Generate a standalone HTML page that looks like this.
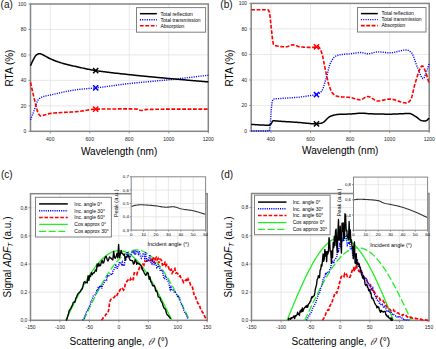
<!DOCTYPE html>
<html><head><meta charset="utf-8"><style>html,body{margin:0;padding:0;background:#fff;width:436px;height:349px;overflow:hidden}svg{display:block}</style></head><body>
<svg width="436" height="349" viewBox="0 0 436 349" font-family="'Liberation Sans', sans-serif">
<rect width="436" height="349" fill="#fff"/>
<line x1="50.26" y1="4" x2="50.26" y2="131.3" stroke="#e2e2e2" stroke-width="0.8"/>
<line x1="89.77" y1="4" x2="89.77" y2="131.3" stroke="#e2e2e2" stroke-width="0.8"/>
<line x1="129.28" y1="4" x2="129.28" y2="131.3" stroke="#e2e2e2" stroke-width="0.8"/>
<line x1="168.79" y1="4" x2="168.79" y2="131.3" stroke="#e2e2e2" stroke-width="0.8"/>
<line x1="30.5" y1="105.84" x2="208.3" y2="105.84" stroke="#e2e2e2" stroke-width="0.8"/>
<line x1="30.5" y1="80.38" x2="208.3" y2="80.38" stroke="#e2e2e2" stroke-width="0.8"/>
<line x1="30.5" y1="54.92" x2="208.3" y2="54.92" stroke="#e2e2e2" stroke-width="0.8"/>
<line x1="30.5" y1="29.46" x2="208.3" y2="29.46" stroke="#e2e2e2" stroke-width="0.8"/>
<rect x="30.5" y="4" width="177.8" height="127.3" fill="none" stroke="#858585" stroke-width="1.5"/>
<line x1="50.26" y1="131.3" x2="50.26" y2="133.3" stroke="#858585" stroke-width="0.9"/>
<line x1="89.77" y1="131.3" x2="89.77" y2="133.3" stroke="#858585" stroke-width="0.9"/>
<line x1="129.28" y1="131.3" x2="129.28" y2="133.3" stroke="#858585" stroke-width="0.9"/>
<line x1="168.79" y1="131.3" x2="168.79" y2="133.3" stroke="#858585" stroke-width="0.9"/>
<line x1="208.3" y1="131.3" x2="208.3" y2="133.3" stroke="#858585" stroke-width="0.9"/>
<line x1="28.5" y1="131.3" x2="30.5" y2="131.3" stroke="#858585" stroke-width="0.9"/>
<line x1="28.5" y1="105.84" x2="30.5" y2="105.84" stroke="#858585" stroke-width="0.9"/>
<line x1="28.5" y1="80.38" x2="30.5" y2="80.38" stroke="#858585" stroke-width="0.9"/>
<line x1="28.5" y1="54.92" x2="30.5" y2="54.92" stroke="#858585" stroke-width="0.9"/>
<line x1="28.5" y1="29.46" x2="30.5" y2="29.46" stroke="#858585" stroke-width="0.9"/>
<line x1="28.5" y1="4" x2="30.5" y2="4" stroke="#858585" stroke-width="0.9"/>
<text x="50.26" y="140.7" font-size="5" text-anchor="middle" fill="#222" >400</text>
<text x="89.77" y="140.7" font-size="5" text-anchor="middle" fill="#222" >600</text>
<text x="129.28" y="140.7" font-size="5" text-anchor="middle" fill="#222" >800</text>
<text x="168.79" y="140.7" font-size="5" text-anchor="middle" fill="#222" >1000</text>
<text x="208.3" y="140.7" font-size="5" text-anchor="middle" fill="#222" >1200</text>
<text x="26.3" y="133.1" font-size="5" text-anchor="end" fill="#222" >0</text>
<text x="26.3" y="107.64" font-size="5" text-anchor="end" fill="#222" >20</text>
<text x="26.3" y="82.18" font-size="5" text-anchor="end" fill="#222" >40</text>
<text x="26.3" y="56.72" font-size="5" text-anchor="end" fill="#222" >60</text>
<text x="26.3" y="31.26" font-size="5" text-anchor="end" fill="#222" >80</text>
<text x="26.3" y="5.8" font-size="5" text-anchor="end" fill="#222" >100</text>
<path d="M30.5 119.84 L31.49 117.3 L32.48 114.75 L33.46 112.21 L34.45 109.66 L35.44 106.83 L36.43 103.8 L37.41 101.16 L38.4 99.48 L39.39 98.57 L40.38 97.88 L41.37 97.34 L42.35 96.93 L43.34 96.59 L44.33 96.3 L45.32 96.05 L46.3 95.83 L47.29 95.62 L48.28 95.43 L49.27 95.23 L50.26 95.02 L51.24 94.8 L52.23 94.58 L53.22 94.36 L54.21 94.13 L55.19 93.91 L56.18 93.69 L57.17 93.46 L58.16 93.24 L59.15 93.02 L60.13 92.8 L61.12 92.58 L62.11 92.37 L63.1 92.15 L64.08 91.94 L65.07 91.74 L66.06 91.53 L67.05 91.34 L68.04 91.14 L69.02 90.95 L70.01 90.77 L71 90.59 L71.99 90.42 L72.97 90.26 L73.96 90.1 L74.95 89.95 L75.94 89.81 L76.93 89.67 L77.91 89.55 L78.9 89.43 L79.89 89.32 L80.88 89.21 L81.86 89.11 L82.85 89.02 L83.84 88.93 L84.83 88.85 L85.82 88.76 L86.8 88.68 L87.79 88.6 L88.78 88.52 L89.77 88.44 L90.75 88.35 L91.74 88.27 L92.73 88.18 L93.72 88.09 L94.71 87.99 L95.69 87.89 L96.68 87.78 L97.67 87.67 L98.66 87.56 L99.64 87.44 L100.63 87.32 L101.62 87.2 L102.61 87.08 L103.6 86.95 L104.58 86.82 L105.57 86.69 L106.56 86.56 L107.55 86.43 L108.53 86.29 L109.52 86.16 L110.51 86.02 L111.5 85.88 L112.49 85.75 L113.47 85.61 L114.46 85.47 L115.45 85.33 L116.44 85.2 L117.42 85.06 L118.41 84.93 L119.4 84.79 L120.39 84.66 L121.38 84.53 L122.36 84.4 L123.35 84.27 L124.34 84.15 L125.33 84.03 L126.31 83.91 L127.3 83.79 L128.29 83.67 L129.28 83.56 L130.27 83.45 L131.25 83.35 L132.24 83.24 L133.23 83.14 L134.22 83.04 L135.2 82.93 L136.19 82.83 L137.18 82.74 L138.17 82.64 L139.16 82.54 L140.14 82.45 L141.13 82.35 L142.12 82.26 L143.11 82.17 L144.09 82.07 L145.08 81.98 L146.07 81.89 L147.06 81.8 L148.05 81.71 L149.03 81.62 L150.02 81.53 L151.01 81.44 L152 81.35 L152.98 81.26 L153.97 81.17 L154.96 81.08 L155.95 80.99 L156.94 80.9 L157.92 80.81 L158.91 80.71 L159.9 80.62 L160.89 80.53 L161.87 80.43 L162.86 80.34 L163.85 80.24 L164.84 80.14 L165.83 80.05 L166.81 79.95 L167.8 79.85 L168.79 79.74 L169.78 79.64 L170.76 79.54 L171.75 79.43 L172.74 79.33 L173.73 79.22 L174.72 79.11 L175.7 79 L176.69 78.9 L177.68 78.79 L178.67 78.68 L179.65 78.57 L180.64 78.46 L181.63 78.35 L182.62 78.23 L183.61 78.12 L184.59 78.01 L185.58 77.9 L186.57 77.79 L187.56 77.67 L188.54 77.56 L189.53 77.44 L190.52 77.33 L191.51 77.22 L192.5 77.1 L193.48 76.99 L194.47 76.87 L195.46 76.76 L196.45 76.65 L197.43 76.53 L198.42 76.42 L199.41 76.3 L200.4 76.19 L201.39 76.08 L202.37 75.96 L203.36 75.85 L204.35 75.74 L205.34 75.62 L206.32 75.51 L207.31 75.4 L208.3 75.29" fill="none" stroke="#0000ff" stroke-width="1.4" stroke-dasharray="1.1 1.2"/>
<path d="M30.5 82.29 L31.49 86.67 L32.48 91.1 L33.46 95.43 L34.45 99.48 L35.44 103.54 L36.43 107.63 L37.41 111.14 L38.4 113.48 L39.39 114.97 L40.38 115.92 L41.37 115.97 L42.35 115.71 L43.34 115.34 L44.33 115.01 L45.32 114.72 L46.3 114.42 L47.29 114.13 L48.28 113.86 L49.27 113.64 L50.26 113.48 L51.24 113.36 L52.23 113.25 L53.22 113.15 L54.21 113.06 L55.19 112.97 L56.18 112.89 L57.17 112.82 L58.16 112.75 L59.15 112.69 L60.13 112.63 L61.12 112.57 L62.11 112.52 L63.1 112.47 L64.08 112.42 L65.07 112.37 L66.06 112.32 L67.05 112.27 L68.04 112.23 L69.02 112.18 L70.01 112.12 L71 112.07 L71.99 112.01 L72.97 111.95 L73.96 111.89 L74.95 111.82 L75.94 111.74 L76.93 111.66 L77.91 111.57 L78.9 111.47 L79.89 111.34 L80.88 111.2 L81.86 111.05 L82.85 110.89 L83.84 110.72 L84.83 110.54 L85.82 110.36 L86.8 110.19 L87.79 110.01 L88.78 109.85 L89.77 109.69 L90.75 109.55 L91.74 109.43 L92.73 109.32 L93.72 109.24 L94.71 109.18 L95.69 109.15 L96.68 109.13 L97.67 109.12 L98.66 109.11 L99.64 109.09 L100.63 109.08 L101.62 109.07 L102.61 109.05 L103.6 109.04 L104.58 109.03 L105.57 109.02 L106.56 109.01 L107.55 109 L108.53 108.99 L109.52 108.98 L110.51 108.97 L111.5 108.96 L112.49 108.96 L113.47 108.95 L114.46 108.94 L115.45 108.94 L116.44 108.93 L117.42 108.93 L118.41 108.92 L119.4 108.92 L120.39 108.91 L121.38 108.91 L122.36 108.91 L123.35 108.9 L124.34 108.9 L125.33 108.9 L126.31 108.9 L127.3 108.9 L128.29 108.9 L129.28 108.9 L130.27 108.9 L131.25 108.91 L132.24 108.93 L133.23 108.96 L134.22 108.99 L135.2 109.04 L136.19 109.09 L137.18 109.15 L138.17 109.4 L139.16 109.88 L140.14 110.34 L141.13 110.55 L142.12 110.42 L143.11 110.13 L144.09 109.83 L145.08 109.66 L146.07 109.61 L147.06 109.57 L148.05 109.53 L149.03 109.49 L150.02 109.45 L151.01 109.42 L152 109.38 L152.98 109.36 L153.97 109.33 L154.96 109.3 L155.95 109.28 L156.94 109.26 L157.92 109.24 L158.91 109.22 L159.9 109.21 L160.89 109.2 L161.87 109.18 L162.86 109.18 L163.85 109.17 L164.84 109.16 L165.83 109.16 L166.81 109.15 L167.8 109.15 L168.79 109.15 L169.78 109.15 L170.76 109.15 L171.75 109.15 L172.74 109.15 L173.73 109.15 L174.72 109.15 L175.7 109.15 L176.69 109.15 L177.68 109.15 L178.67 109.15 L179.65 109.15 L180.64 109.15 L181.63 109.15 L182.62 109.15 L183.61 109.15 L184.59 109.15 L185.58 109.15 L186.57 109.15 L187.56 109.15 L188.54 109.15 L189.53 109.15 L190.52 109.15 L191.51 109.15 L192.5 109.15 L193.48 109.15 L194.47 109.15 L195.46 109.15 L196.45 109.15 L197.43 109.15 L198.42 109.15 L199.41 109.15 L200.4 109.15 L201.39 109.15 L202.37 109.15 L203.36 109.15 L204.35 109.15 L205.34 109.15 L206.32 109.15 L207.31 109.15 L208.3 109.15" fill="none" stroke="#ff0000" stroke-width="1.6" stroke-dasharray="3.8 1.6"/>
<path d="M30.5 65.74 L31.49 63.54 L32.48 61.33 L33.46 59.38 L34.45 57.59 L35.44 55.98 L36.43 54.92 L37.41 54.3 L38.4 53.83 L39.39 53.65 L40.38 53.79 L41.37 54.14 L42.35 54.54 L43.34 54.99 L44.33 55.55 L45.32 56.14 L46.3 56.7 L47.29 57.23 L48.28 57.76 L49.27 58.27 L50.26 58.74 L51.24 59.18 L52.23 59.61 L53.22 60.03 L54.21 60.43 L55.19 60.82 L56.18 61.2 L57.17 61.56 L58.16 61.91 L59.15 62.24 L60.13 62.56 L61.12 62.86 L62.11 63.15 L63.1 63.44 L64.08 63.71 L65.07 63.98 L66.06 64.24 L67.05 64.49 L68.04 64.74 L69.02 64.98 L70.01 65.22 L71 65.45 L71.99 65.68 L72.97 65.91 L73.96 66.13 L74.95 66.35 L75.94 66.57 L76.93 66.79 L77.91 67.01 L78.9 67.23 L79.89 67.45 L80.88 67.67 L81.86 67.89 L82.85 68.11 L83.84 68.32 L84.83 68.53 L85.82 68.74 L86.8 68.95 L87.79 69.15 L88.78 69.35 L89.77 69.54 L90.75 69.73 L91.74 69.91 L92.73 70.09 L93.72 70.26 L94.71 70.42 L95.69 70.58 L96.68 70.73 L97.67 70.88 L98.66 71.02 L99.64 71.17 L100.63 71.31 L101.62 71.44 L102.61 71.58 L103.6 71.71 L104.58 71.84 L105.57 71.97 L106.56 72.1 L107.55 72.22 L108.53 72.34 L109.52 72.46 L110.51 72.58 L111.5 72.7 L112.49 72.81 L113.47 72.93 L114.46 73.04 L115.45 73.15 L116.44 73.26 L117.42 73.37 L118.41 73.48 L119.4 73.59 L120.39 73.7 L121.38 73.8 L122.36 73.91 L123.35 74.02 L124.34 74.12 L125.33 74.23 L126.31 74.33 L127.3 74.44 L128.29 74.55 L129.28 74.65 L130.27 74.76 L131.25 74.86 L132.24 74.97 L133.23 75.07 L134.22 75.17 L135.2 75.28 L136.19 75.38 L137.18 75.48 L138.17 75.58 L139.16 75.68 L140.14 75.78 L141.13 75.88 L142.12 75.97 L143.11 76.07 L144.09 76.17 L145.08 76.26 L146.07 76.36 L147.06 76.45 L148.05 76.55 L149.03 76.64 L150.02 76.74 L151.01 76.83 L152 76.92 L152.98 77.01 L153.97 77.11 L154.96 77.2 L155.95 77.29 L156.94 77.38 L157.92 77.47 L158.91 77.56 L159.9 77.66 L160.89 77.75 L161.87 77.84 L162.86 77.93 L163.85 78.02 L164.84 78.11 L165.83 78.2 L166.81 78.29 L167.8 78.38 L168.79 78.47 L169.78 78.56 L170.76 78.65 L171.75 78.74 L172.74 78.83 L173.73 78.92 L174.72 79.01 L175.7 79.09 L176.69 79.18 L177.68 79.27 L178.67 79.36 L179.65 79.44 L180.64 79.53 L181.63 79.61 L182.62 79.7 L183.61 79.79 L184.59 79.87 L185.58 79.96 L186.57 80.04 L187.56 80.13 L188.54 80.21 L189.53 80.3 L190.52 80.38 L191.51 80.47 L192.5 80.55 L193.48 80.63 L194.47 80.72 L195.46 80.8 L196.45 80.89 L197.43 80.97 L198.42 81.06 L199.41 81.14 L200.4 81.23 L201.39 81.31 L202.37 81.4 L203.36 81.48 L204.35 81.57 L205.34 81.65 L206.32 81.74 L207.31 81.82 L208.3 81.91" fill="none" stroke="#000" stroke-width="1.5"/>
<path d="M93.09 67.98 L98.29 73.18 M93.09 73.18 L98.29 67.98" stroke="#000" stroke-width="1.5" fill="none"/>
<path d="M93.09 85.29 L98.29 90.49 M93.09 90.49 L98.29 85.29" stroke="#0000ff" stroke-width="1.5" fill="none"/>
<path d="M93.09 106.55 L98.29 111.75 M93.09 111.75 L98.29 106.55" stroke="#ff0000" stroke-width="1.5" fill="none"/>
<rect x="136.5" y="7.6" width="69.1" height="24.6" fill="#fff" stroke="#808080" stroke-width="1"/>
<line x1="139.9" y1="13.7" x2="156.8" y2="13.7" stroke="#000" stroke-width="1.5"/>
<text x="160.5" y="15.5" font-size="5" text-anchor="start" fill="#000" >Total reflection</text>
<line x1="139.9" y1="19.7" x2="156.8" y2="19.7" stroke="#0000ff" stroke-width="1.4" stroke-dasharray="1.1 1.2"/>
<text x="160.5" y="21.5" font-size="5" text-anchor="start" fill="#000" >Total transmission</text>
<line x1="139.9" y1="25.7" x2="156.8" y2="25.7" stroke="#ff0000" stroke-width="1.6" stroke-dasharray="3.8 1.6"/>
<text x="160.5" y="27.5" font-size="5" text-anchor="start" fill="#000" >Absorption</text>
<line x1="270.98" y1="3.4" x2="270.98" y2="131" stroke="#e2e2e2" stroke-width="0.8"/>
<line x1="310.53" y1="3.4" x2="310.53" y2="131" stroke="#e2e2e2" stroke-width="0.8"/>
<line x1="350.09" y1="3.4" x2="350.09" y2="131" stroke="#e2e2e2" stroke-width="0.8"/>
<line x1="389.64" y1="3.4" x2="389.64" y2="131" stroke="#e2e2e2" stroke-width="0.8"/>
<line x1="251.2" y1="105.48" x2="429.2" y2="105.48" stroke="#e2e2e2" stroke-width="0.8"/>
<line x1="251.2" y1="79.96" x2="429.2" y2="79.96" stroke="#e2e2e2" stroke-width="0.8"/>
<line x1="251.2" y1="54.44" x2="429.2" y2="54.44" stroke="#e2e2e2" stroke-width="0.8"/>
<line x1="251.2" y1="28.92" x2="429.2" y2="28.92" stroke="#e2e2e2" stroke-width="0.8"/>
<rect x="251.2" y="3.4" width="178" height="127.6" fill="none" stroke="#858585" stroke-width="1.5"/>
<line x1="270.98" y1="131" x2="270.98" y2="133" stroke="#858585" stroke-width="0.9"/>
<line x1="310.53" y1="131" x2="310.53" y2="133" stroke="#858585" stroke-width="0.9"/>
<line x1="350.09" y1="131" x2="350.09" y2="133" stroke="#858585" stroke-width="0.9"/>
<line x1="389.64" y1="131" x2="389.64" y2="133" stroke="#858585" stroke-width="0.9"/>
<line x1="429.2" y1="131" x2="429.2" y2="133" stroke="#858585" stroke-width="0.9"/>
<line x1="249.2" y1="131" x2="251.2" y2="131" stroke="#858585" stroke-width="0.9"/>
<line x1="249.2" y1="105.48" x2="251.2" y2="105.48" stroke="#858585" stroke-width="0.9"/>
<line x1="249.2" y1="79.96" x2="251.2" y2="79.96" stroke="#858585" stroke-width="0.9"/>
<line x1="249.2" y1="54.44" x2="251.2" y2="54.44" stroke="#858585" stroke-width="0.9"/>
<line x1="249.2" y1="28.92" x2="251.2" y2="28.92" stroke="#858585" stroke-width="0.9"/>
<line x1="249.2" y1="3.4" x2="251.2" y2="3.4" stroke="#858585" stroke-width="0.9"/>
<text x="270.98" y="140.7" font-size="5" text-anchor="middle" fill="#222" >400</text>
<text x="310.53" y="140.7" font-size="5" text-anchor="middle" fill="#222" >600</text>
<text x="350.09" y="140.7" font-size="5" text-anchor="middle" fill="#222" >800</text>
<text x="389.64" y="140.7" font-size="5" text-anchor="middle" fill="#222" >1000</text>
<text x="429.2" y="140.7" font-size="5" text-anchor="middle" fill="#222" >1200</text>
<text x="247" y="132.8" font-size="5" text-anchor="end" fill="#222" >0</text>
<text x="247" y="107.28" font-size="5" text-anchor="end" fill="#222" >20</text>
<text x="247" y="81.76" font-size="5" text-anchor="end" fill="#222" >40</text>
<text x="247" y="56.24" font-size="5" text-anchor="end" fill="#222" >60</text>
<text x="247" y="30.72" font-size="5" text-anchor="end" fill="#222" >80</text>
<text x="247" y="5.2" font-size="5" text-anchor="end" fill="#222" >100</text>
<path d="M251.2 131 L251.99 131 L252.78 131 L253.57 131 L254.36 131 L255.16 131 L255.95 131 L256.74 131 L257.53 131 L258.32 131 L259.11 131 L259.9 131 L260.69 131 L261.48 131 L262.28 131 L263.07 131 L263.86 131 L264.65 131 L265.44 131 L266.23 131 L267.02 131 L267.81 131 L268.6 131 L269.4 131 L270.19 125.36 L270.98 113.75 L271.77 104.1 L272.56 100.65 L273.35 99.1 L274.14 98.95 L274.93 98.84 L275.72 98.76 L276.52 98.69 L277.31 98.65 L278.1 98.61 L278.89 98.58 L279.68 98.54 L280.47 98.49 L281.26 98.43 L282.05 98.37 L282.84 98.31 L283.64 98.26 L284.43 98.21 L285.22 98.15 L286.01 98.1 L286.8 98.05 L287.59 98 L288.38 97.95 L289.17 97.9 L289.96 97.85 L290.76 97.8 L291.55 97.75 L292.34 97.7 L293.13 97.64 L293.92 97.58 L294.71 97.53 L295.5 97.46 L296.29 97.4 L297.08 97.33 L297.88 97.26 L298.67 97.19 L299.46 97.11 L300.25 97.02 L301.04 96.92 L301.83 96.82 L302.62 96.71 L303.41 96.6 L304.2 96.49 L305 96.37 L305.79 96.25 L306.58 96.13 L307.37 96.01 L308.16 95.88 L308.95 95.76 L309.74 95.64 L310.53 95.53 L311.32 95.42 L312.12 95.32 L312.91 95.23 L313.7 95.13 L314.49 95.02 L315.28 94.89 L316.07 94.73 L316.86 94.52 L317.65 94.23 L318.44 93.83 L319.24 93.34 L320.03 92.74 L320.82 92.04 L321.61 91.21 L322.4 89.82 L323.19 87.83 L323.98 85.41 L324.77 82.76 L325.56 80.03 L326.36 77.41 L327.15 74.61 L327.94 71.45 L328.73 68.28 L329.52 65.47 L330.31 63.37 L331.1 61.79 L331.89 60.33 L332.68 59.04 L333.48 57.93 L334.27 57.06 L335.06 56.46 L335.85 56.08 L336.64 55.76 L337.43 55.47 L338.22 55.23 L339.01 55.01 L339.8 54.83 L340.6 54.68 L341.39 54.55 L342.18 54.44 L342.97 54.35 L343.76 54.27 L344.55 54.2 L345.34 54.14 L346.13 54.09 L346.92 54.04 L347.72 53.99 L348.51 53.93 L349.3 53.87 L350.09 53.8 L350.88 53.72 L351.67 53.62 L352.46 53.51 L353.25 53.39 L354.04 53.27 L354.84 53.14 L355.63 53.02 L356.42 52.9 L357.21 52.8 L358 52.7 L358.79 52.63 L359.58 52.57 L360.37 52.53 L361.16 52.53 L361.96 52.6 L362.75 52.74 L363.54 52.92 L364.33 53.14 L365.12 53.35 L365.91 53.55 L366.7 53.7 L367.49 53.79 L368.28 53.79 L369.08 53.73 L369.87 53.6 L370.66 53.44 L371.45 53.24 L372.24 53.02 L373.03 52.79 L373.82 52.56 L374.61 52.35 L375.4 52.17 L376.2 52.02 L376.99 51.92 L377.78 51.89 L378.57 51.9 L379.36 51.93 L380.15 51.98 L380.94 52.04 L381.73 52.12 L382.52 52.2 L383.32 52.29 L384.11 52.38 L384.9 52.47 L385.69 52.55 L386.48 52.62 L387.27 52.69 L388.06 52.74 L388.85 52.77 L389.64 52.78 L390.44 52.76 L391.23 52.71 L392.02 52.63 L392.81 52.52 L393.6 52.39 L394.39 52.24 L395.18 52.07 L395.97 51.89 L396.76 51.7 L397.56 51.5 L398.35 51.3 L399.14 51.11 L399.93 50.91 L400.72 50.73 L401.51 50.56 L402.3 50.4 L403.09 50.27 L403.88 50.15 L404.68 50.06 L405.47 50 L406.26 49.98 L407.05 50.02 L407.84 50.23 L408.63 50.57 L409.42 51.03 L410.21 51.58 L411 52.2 L411.8 52.95 L412.59 54.28 L413.38 56.11 L414.17 58.29 L414.96 60.66 L415.75 63.04 L416.54 65.27 L417.33 67.2 L418.12 69.05 L418.92 71.06 L419.71 73.1 L420.5 75.01 L421.29 76.66 L422.08 77.9 L422.87 78.59 L423.66 78.49 L424.45 77.15 L425.24 75.06 L426.04 72.82 L426.83 70.71 L427.62 68.33 L428.41 65.83 L429.2 63.37" fill="none" stroke="#0000ff" stroke-width="1.4" stroke-dasharray="1.1 1.2"/>
<path d="M251.2 9.78 L251.99 9.78 L252.78 9.78 L253.57 9.78 L254.36 9.78 L255.16 9.78 L255.95 9.78 L256.74 9.78 L257.53 9.78 L258.32 9.78 L259.11 9.78 L259.9 9.78 L260.69 9.78 L261.48 9.78 L262.28 9.78 L263.07 9.78 L263.86 9.78 L264.65 9.78 L265.44 9.78 L266.23 9.78 L267.02 9.78 L267.81 9.78 L268.6 10.36 L269.4 12.33 L270.19 17.47 L270.98 25.34 L271.77 32.46 L272.56 39.97 L273.35 44.23 L274.14 45.1 L274.93 45.51 L275.72 45.7 L276.52 45.87 L277.31 46.03 L278.1 46.17 L278.89 46.29 L279.68 46.4 L280.47 46.5 L281.26 46.58 L282.05 46.65 L282.84 46.7 L283.64 46.74 L284.43 46.77 L285.22 46.78 L286.01 46.78 L286.8 46.68 L287.59 46.47 L288.38 46.19 L289.17 45.87 L289.96 45.54 L290.76 45.25 L291.55 45.02 L292.34 44.89 L293.13 44.89 L293.92 45 L294.71 45.21 L295.5 45.48 L296.29 45.78 L297.08 46.08 L297.88 46.37 L298.67 46.6 L299.46 46.76 L300.25 46.84 L301.04 46.92 L301.83 46.99 L302.62 47.06 L303.41 47.12 L304.2 47.18 L305 47.24 L305.79 47.28 L306.58 47.32 L307.37 47.36 L308.16 47.39 L308.95 47.41 L309.74 47.42 L310.53 47.42 L311.32 47.4 L312.12 47.36 L312.91 47.28 L313.7 47.2 L314.49 47.1 L315.28 47.01 L316.07 46.92 L316.86 46.85 L317.65 46.8 L318.44 46.78 L319.24 47.3 L320.03 48.63 L320.82 50.43 L321.61 52.41 L322.4 55.23 L323.19 58.88 L323.98 62.94 L324.77 66.99 L325.56 70.62 L326.36 74.27 L327.15 77.98 L327.94 81.49 L328.73 84.53 L329.52 86.86 L330.31 88.86 L331.1 90.65 L331.89 92.19 L332.68 93.37 L333.48 94.16 L334.27 94.77 L335.06 95.3 L335.85 95.75 L336.64 96.11 L337.43 96.38 L338.22 96.55 L339.01 96.65 L339.8 96.74 L340.6 96.82 L341.39 96.88 L342.18 96.94 L342.97 96.98 L343.76 97.02 L344.55 97.06 L345.34 97.1 L346.13 97.14 L346.92 97.18 L347.72 97.23 L348.51 97.29 L349.3 97.36 L350.09 97.44 L350.88 97.56 L351.67 97.73 L352.46 97.93 L353.25 98.17 L354.04 98.41 L354.84 98.67 L355.63 98.92 L356.42 99.15 L357.21 99.36 L358 99.54 L358.79 99.66 L359.58 99.73 L360.37 99.71 L361.16 99.54 L361.96 99.24 L362.75 98.84 L363.54 98.38 L364.33 97.9 L365.12 97.45 L365.91 97.05 L366.7 96.74 L367.49 96.57 L368.28 96.57 L369.08 96.73 L369.87 97.01 L370.66 97.4 L371.45 97.87 L372.24 98.38 L373.03 98.91 L373.82 99.44 L374.61 99.93 L375.4 100.37 L376.2 100.71 L376.99 100.93 L377.78 101.01 L378.57 100.99 L379.36 100.92 L380.15 100.81 L380.94 100.68 L381.73 100.52 L382.52 100.34 L383.32 100.15 L384.11 99.96 L384.9 99.77 L385.69 99.6 L386.48 99.44 L387.27 99.3 L388.06 99.19 L388.85 99.12 L389.64 99.1 L390.44 99.12 L391.23 99.2 L392.02 99.31 L392.81 99.46 L393.6 99.64 L394.39 99.84 L395.18 100.07 L395.97 100.32 L396.76 100.58 L397.56 100.85 L398.35 101.12 L399.14 101.38 L399.93 101.65 L400.72 101.9 L401.51 102.13 L402.3 102.34 L403.09 102.53 L403.88 102.69 L404.68 102.81 L405.47 102.89 L406.26 102.93 L407.05 102.85 L407.84 102.55 L408.63 102.04 L409.42 101.37 L410.21 100.59 L411 99.36 L411.8 97.01 L412.59 93.88 L413.38 90.37 L414.17 86.87 L414.96 83.78 L415.75 81.33 L416.54 78.84 L417.33 76.28 L418.12 73.77 L418.92 71.42 L419.71 69.34 L420.5 67.66 L421.29 66.49 L422.08 65.95 L422.87 66.24 L423.66 67.46 L424.45 69.19 L425.24 71.03 L426.04 73.07 L426.83 75.55 L427.62 78.3 L428.41 81.11 L429.2 83.79" fill="none" stroke="#ff0000" stroke-width="1.6" stroke-dasharray="3.8 1.6"/>
<path d="M251.2 124.36 L251.99 124.42 L252.78 124.47 L253.57 124.53 L254.36 124.58 L255.16 124.64 L255.95 124.69 L256.74 124.74 L257.53 124.79 L258.32 124.83 L259.11 124.88 L259.9 124.91 L260.69 124.96 L261.48 125 L262.28 125.04 L263.07 125.08 L263.86 125.12 L264.65 125.15 L265.44 125.18 L266.23 125.21 L267.02 125.23 L267.81 125.25 L268.6 125.26 L269.4 125.18 L270.19 124.69 L270.98 123.98 L271.77 122.6 L272.56 121.07 L273.35 120.79 L274.14 120.81 L274.93 120.85 L275.72 120.9 L276.52 120.95 L277.31 121.02 L278.1 121.08 L278.89 121.15 L279.68 121.22 L280.47 121.28 L281.26 121.33 L282.05 121.38 L282.84 121.43 L283.64 121.48 L284.43 121.53 L285.22 121.58 L286.01 121.63 L286.8 121.68 L287.59 121.73 L288.38 121.78 L289.17 121.82 L289.96 121.87 L290.76 121.92 L291.55 121.97 L292.34 122.03 L293.13 122.08 L293.92 122.13 L294.71 122.18 L295.5 122.23 L296.29 122.29 L297.08 122.34 L297.88 122.4 L298.67 122.45 L299.46 122.51 L300.25 122.58 L301.04 122.65 L301.83 122.72 L302.62 122.8 L303.41 122.88 L304.2 122.96 L305 123.04 L305.79 123.13 L306.58 123.21 L307.37 123.29 L308.16 123.37 L308.95 123.45 L309.74 123.52 L310.53 123.58 L311.32 123.65 L312.12 123.7 L312.91 123.75 L313.7 123.79 L314.49 123.82 L315.28 123.84 L316.07 123.85 L316.86 123.85 L317.65 123.79 L318.44 123.69 L319.24 123.55 L320.03 123.37 L320.82 123.17 L321.61 122.94 L322.4 122.71 L323.19 122.36 L323.98 121.83 L324.77 121.16 L325.56 120.4 L326.36 119.58 L327.15 118.77 L327.94 117.99 L328.73 117.29 L329.52 116.72 L330.31 116.33 L331.1 116.04 L331.89 115.77 L332.68 115.51 L333.48 115.27 L334.27 115.06 L335.06 114.87 L335.85 114.71 L336.64 114.58 L337.43 114.48 L338.22 114.41 L339.01 114.37 L339.8 114.33 L340.6 114.3 L341.39 114.27 L342.18 114.25 L342.97 114.23 L343.76 114.21 L344.55 114.19 L345.34 114.17 L346.13 114.16 L346.92 114.14 L347.72 114.11 L348.51 114.09 L349.3 114.06 L350.09 114.03 L350.88 113.99 L351.67 113.93 L352.46 113.87 L353.25 113.8 L354.04 113.72 L354.84 113.64 L355.63 113.56 L356.42 113.48 L357.21 113.4 L358 113.33 L358.79 113.26 L359.58 113.21 L360.37 113.17 L361.16 113.15 L361.96 113.14 L362.75 113.15 L363.54 113.19 L364.33 113.26 L365.12 113.33 L365.91 113.42 L366.7 113.51 L367.49 113.6 L368.28 113.67 L369.08 113.73 L369.87 113.77 L370.66 113.8 L371.45 113.83 L372.24 113.85 L373.03 113.88 L373.82 113.9 L374.61 113.92 L375.4 113.95 L376.2 113.97 L376.99 113.99 L377.78 114.01 L378.57 114.02 L379.36 114.04 L380.15 114.06 L380.94 114.07 L381.73 114.09 L382.52 114.1 L383.32 114.11 L384.11 114.12 L384.9 114.13 L385.69 114.14 L386.48 114.15 L387.27 114.15 L388.06 114.15 L388.85 114.16 L389.64 114.16 L390.44 114.15 L391.23 114.15 L392.02 114.13 L392.81 114.11 L393.6 114.09 L394.39 114.06 L395.18 114.03 L395.97 114 L396.76 113.97 L397.56 113.93 L398.35 113.89 L399.14 113.86 L399.93 113.82 L400.72 113.78 L401.51 113.74 L402.3 113.71 L403.09 113.67 L403.88 113.64 L404.68 113.61 L405.47 113.59 L406.26 113.56 L407.05 113.54 L407.84 113.53 L408.63 113.52 L409.42 113.52 L410.21 113.61 L411 113.84 L411.8 114.2 L412.59 114.63 L413.38 115.12 L414.17 115.62 L414.96 116.1 L415.75 116.56 L416.54 117.09 L417.33 117.7 L418.12 118.35 L418.92 118.99 L419.71 119.59 L420.5 120.11 L421.29 120.51 L422.08 120.76 L422.87 120.87 L423.66 120.96 L424.45 121.02 L425.24 121.05 L426.04 120.85 L426.83 120.33 L427.62 119.63 L428.41 118.89 L429.2 118.24" fill="none" stroke="#000" stroke-width="1.5"/>
<path d="M313.87 121.25 L319.07 126.45 M313.87 126.45 L319.07 121.25" stroke="#000" stroke-width="1.5" fill="none"/>
<path d="M313.87 92.03 L319.07 97.23 M313.87 97.23 L319.07 92.03" stroke="#0000ff" stroke-width="1.5" fill="none"/>
<path d="M313.87 44.18 L319.07 49.38 M313.87 49.38 L319.07 44.18" stroke="#ff0000" stroke-width="1.5" fill="none"/>
<rect x="357.5" y="7.5" width="68.5" height="24.5" fill="#fff" stroke="#808080" stroke-width="1"/>
<line x1="360.9" y1="13.6" x2="377.8" y2="13.6" stroke="#000" stroke-width="1.5"/>
<text x="381.5" y="15.4" font-size="5" text-anchor="start" fill="#000" >Total reflection</text>
<line x1="360.9" y1="19.6" x2="377.8" y2="19.6" stroke="#0000ff" stroke-width="1.4" stroke-dasharray="1.1 1.2"/>
<text x="381.5" y="21.4" font-size="5" text-anchor="start" fill="#000" >Total transmission</text>
<line x1="360.9" y1="25.6" x2="377.8" y2="25.6" stroke="#ff0000" stroke-width="1.6" stroke-dasharray="3.8 1.6"/>
<text x="381.5" y="27.4" font-size="5" text-anchor="start" fill="#000" >Absorption</text>
<text x="0.6" y="8.3" font-size="10" text-anchor="start" fill="#111" >(a)</text>
<text x="220.3" y="8.3" font-size="10" text-anchor="start" fill="#111" >(b)</text>
<text x="80.9" y="155.0" font-size="10" textLength="76.4" lengthAdjust="spacingAndGlyphs" fill="#000">Wavelength (nm)</text>
<text x="302.1" y="154.4" font-size="10" textLength="76.4" lengthAdjust="spacingAndGlyphs" fill="#000">Wavelength (nm)</text>
<text transform="translate(13.4 68) rotate(-90)" font-size="10" text-anchor="middle" fill="#000">RTA (%)</text>
<text transform="translate(233.1 68) rotate(-90)" font-size="10" text-anchor="middle" fill="#000">RTA (%)</text>
<line x1="59.95" y1="193.7" x2="59.95" y2="320.3" stroke="#e2e2e2" stroke-width="0.8"/>
<line x1="89.4" y1="193.7" x2="89.4" y2="320.3" stroke="#e2e2e2" stroke-width="0.8"/>
<line x1="118.85" y1="193.7" x2="118.85" y2="320.3" stroke="#e2e2e2" stroke-width="0.8"/>
<line x1="148.3" y1="193.7" x2="148.3" y2="320.3" stroke="#e2e2e2" stroke-width="0.8"/>
<line x1="177.75" y1="193.7" x2="177.75" y2="320.3" stroke="#e2e2e2" stroke-width="0.8"/>
<line x1="30.5" y1="292.17" x2="207.2" y2="292.17" stroke="#e2e2e2" stroke-width="0.8"/>
<line x1="30.5" y1="264.03" x2="207.2" y2="264.03" stroke="#e2e2e2" stroke-width="0.8"/>
<line x1="30.5" y1="235.9" x2="207.2" y2="235.9" stroke="#e2e2e2" stroke-width="0.8"/>
<line x1="30.5" y1="207.77" x2="207.2" y2="207.77" stroke="#e2e2e2" stroke-width="0.8"/>
<rect x="30.5" y="193.7" width="176.7" height="126.6" fill="none" stroke="#858585" stroke-width="1.5"/>
<line x1="30.5" y1="320.3" x2="30.5" y2="322.3" stroke="#858585" stroke-width="0.9"/>
<line x1="59.95" y1="320.3" x2="59.95" y2="322.3" stroke="#858585" stroke-width="0.9"/>
<line x1="89.4" y1="320.3" x2="89.4" y2="322.3" stroke="#858585" stroke-width="0.9"/>
<line x1="118.85" y1="320.3" x2="118.85" y2="322.3" stroke="#858585" stroke-width="0.9"/>
<line x1="148.3" y1="320.3" x2="148.3" y2="322.3" stroke="#858585" stroke-width="0.9"/>
<line x1="177.75" y1="320.3" x2="177.75" y2="322.3" stroke="#858585" stroke-width="0.9"/>
<line x1="207.2" y1="320.3" x2="207.2" y2="322.3" stroke="#858585" stroke-width="0.9"/>
<line x1="28.5" y1="320.3" x2="30.5" y2="320.3" stroke="#858585" stroke-width="0.9"/>
<line x1="28.5" y1="292.17" x2="30.5" y2="292.17" stroke="#858585" stroke-width="0.9"/>
<line x1="28.5" y1="264.03" x2="30.5" y2="264.03" stroke="#858585" stroke-width="0.9"/>
<line x1="28.5" y1="235.9" x2="30.5" y2="235.9" stroke="#858585" stroke-width="0.9"/>
<line x1="28.5" y1="207.77" x2="30.5" y2="207.77" stroke="#858585" stroke-width="0.9"/>
<text x="30.5" y="329.2" font-size="5" text-anchor="middle" fill="#222" >-150</text>
<text x="59.95" y="329.2" font-size="5" text-anchor="middle" fill="#222" >-100</text>
<text x="89.4" y="329.2" font-size="5" text-anchor="middle" fill="#222" >-50</text>
<text x="118.85" y="329.2" font-size="5" text-anchor="middle" fill="#222" >0</text>
<text x="148.3" y="329.2" font-size="5" text-anchor="middle" fill="#222" >50</text>
<text x="177.75" y="329.2" font-size="5" text-anchor="middle" fill="#222" >100</text>
<text x="207.2" y="329.2" font-size="5" text-anchor="middle" fill="#222" >150</text>
<text x="27.4" y="322.1" font-size="5" text-anchor="end" fill="#222" >0,0</text>
<text x="27.4" y="293.97" font-size="5" text-anchor="end" fill="#222" >0,2</text>
<text x="27.4" y="265.83" font-size="5" text-anchor="end" fill="#222" >0,4</text>
<text x="27.4" y="237.7" font-size="5" text-anchor="end" fill="#222" >0,6</text>
<text x="27.4" y="209.57" font-size="5" text-anchor="end" fill="#222" >0,8</text>
<rect x="131.2" y="176.8" width="74.4" height="53.3" fill="#fff"/>
<line x1="143.6" y1="176.8" x2="143.6" y2="230.1" stroke="#e2e2e2" stroke-width="0.8"/>
<line x1="156" y1="176.8" x2="156" y2="230.1" stroke="#e2e2e2" stroke-width="0.8"/>
<line x1="168.4" y1="176.8" x2="168.4" y2="230.1" stroke="#e2e2e2" stroke-width="0.8"/>
<line x1="180.8" y1="176.8" x2="180.8" y2="230.1" stroke="#e2e2e2" stroke-width="0.8"/>
<line x1="193.2" y1="176.8" x2="193.2" y2="230.1" stroke="#e2e2e2" stroke-width="0.8"/>
<line x1="131.2" y1="216.78" x2="205.6" y2="216.78" stroke="#e2e2e2" stroke-width="0.8"/>
<line x1="131.2" y1="203.45" x2="205.6" y2="203.45" stroke="#e2e2e2" stroke-width="0.8"/>
<line x1="131.2" y1="190.12" x2="205.6" y2="190.12" stroke="#e2e2e2" stroke-width="0.8"/>
<path d="M131.2 206.51 L132.44 206.15 L133.68 205.76 L134.92 205.41 L136.16 205.18 L137.4 205.03 L138.64 204.91 L139.88 204.82 L141.12 204.78 L142.36 204.81 L143.6 204.88 L144.84 204.96 L146.08 205.05 L147.32 205.13 L148.56 205.22 L149.8 205.31 L151.04 205.4 L152.28 205.5 L153.52 205.61 L154.76 205.73 L156 205.85 L157.24 206 L158.48 206.2 L159.72 206.42 L160.96 206.64 L162.2 206.85 L163.44 207.02 L164.68 207.14 L165.92 207.18 L167.16 207.15 L168.4 207.08 L169.64 206.98 L170.88 206.88 L172.12 206.81 L173.36 206.78 L174.6 206.89 L175.84 207.19 L177.08 207.59 L178.32 208.03 L179.56 208.45 L180.8 208.78 L182.04 209.02 L183.28 209.23 L184.52 209.42 L185.76 209.6 L187 209.78 L188.24 209.95 L189.48 210.13 L190.72 210.32 L191.96 210.54 L193.2 210.78 L194.44 211.06 L195.68 211.37 L196.92 211.71 L198.16 212.07 L199.4 212.45 L200.64 212.84 L201.88 213.23 L203.12 213.62 L204.36 214.01 L205.6 214.38" fill="none" stroke="#333" stroke-width="1.1"/>
<rect x="131.2" y="176.8" width="74.4" height="53.3" fill="none" stroke="#858585" stroke-width="1.0"/>
<line x1="131.2" y1="230.1" x2="131.2" y2="231.6" stroke="#858585" stroke-width="0.9"/>
<line x1="143.6" y1="230.1" x2="143.6" y2="231.6" stroke="#858585" stroke-width="0.9"/>
<line x1="156" y1="230.1" x2="156" y2="231.6" stroke="#858585" stroke-width="0.9"/>
<line x1="168.4" y1="230.1" x2="168.4" y2="231.6" stroke="#858585" stroke-width="0.9"/>
<line x1="180.8" y1="230.1" x2="180.8" y2="231.6" stroke="#858585" stroke-width="0.9"/>
<line x1="193.2" y1="230.1" x2="193.2" y2="231.6" stroke="#858585" stroke-width="0.9"/>
<line x1="205.6" y1="230.1" x2="205.6" y2="231.6" stroke="#858585" stroke-width="0.9"/>
<line x1="129.7" y1="230.1" x2="131.2" y2="230.1" stroke="#858585" stroke-width="0.9"/>
<line x1="129.7" y1="216.78" x2="131.2" y2="216.78" stroke="#858585" stroke-width="0.9"/>
<line x1="129.7" y1="203.45" x2="131.2" y2="203.45" stroke="#858585" stroke-width="0.9"/>
<line x1="129.7" y1="190.12" x2="131.2" y2="190.12" stroke="#858585" stroke-width="0.9"/>
<line x1="129.7" y1="176.8" x2="131.2" y2="176.8" stroke="#858585" stroke-width="0.9"/>
<text x="131.2" y="236.3" font-size="4.3" text-anchor="middle" fill="#000" >0</text>
<text x="143.6" y="236.3" font-size="4.3" text-anchor="middle" fill="#000" >10</text>
<text x="156" y="236.3" font-size="4.3" text-anchor="middle" fill="#000" >20</text>
<text x="168.4" y="236.3" font-size="4.3" text-anchor="middle" fill="#000" >30</text>
<text x="180.8" y="236.3" font-size="4.3" text-anchor="middle" fill="#000" >40</text>
<text x="193.2" y="236.3" font-size="4.3" text-anchor="middle" fill="#000" >50</text>
<text x="205.6" y="236.3" font-size="4.3" text-anchor="middle" fill="#000" >60</text>
<text x="128.8" y="231.6" font-size="4.3" text-anchor="end" fill="#000" >0,3</text>
<text x="128.8" y="218.28" font-size="4.3" text-anchor="end" fill="#000" >0,4</text>
<text x="128.8" y="204.95" font-size="4.3" text-anchor="end" fill="#000" >0,5</text>
<text x="128.8" y="191.62" font-size="4.3" text-anchor="end" fill="#000" >0,6</text>
<text x="128.8" y="178.3" font-size="4.3" text-anchor="end" fill="#000" >0,7</text>
<text transform="translate(118.3 203.3) rotate(-90)" font-size="5.7" text-anchor="middle" fill="#000">Peak (a.u.)</text>
<text x="168.2" y="246.4" font-size="5.5" text-anchor="middle" fill="#000" >Incident angle (&#176;)</text>
<path d="M65.84 320.3 L67.02 317.87 L68.2 315.44 L69.37 313.02 L70.55 310.61 L71.73 308.21 L72.91 305.82 L74.09 303.45 L75.26 301.11 L76.44 298.78 L77.62 296.49 L78.8 294.22 L79.98 291.98 L81.15 289.78 L82.33 287.61 L83.51 285.49 L84.69 283.4 L85.87 281.36 L87.04 279.37 L88.22 277.43 L89.4 275.54 L90.58 273.71 L91.76 271.93 L92.93 270.21 L94.11 268.55 L95.29 266.96 L96.47 265.43 L97.65 263.97 L98.82 262.57 L100 261.25 L101.18 260 L102.36 258.82 L103.54 257.72 L104.71 256.69 L105.89 255.74 L107.07 254.87 L108.25 254.08 L109.43 253.37 L110.6 252.74 L111.78 252.19 L112.96 251.73 L114.14 251.35 L115.32 251.05 L116.49 250.84 L117.67 250.71 L118.85 250.67 L120.03 250.71 L121.21 250.84 L122.38 251.05 L123.56 251.35 L124.74 251.73 L125.92 252.19 L127.1 252.74 L128.27 253.37 L129.45 254.08 L130.63 254.87 L131.81 255.74 L132.99 256.69 L134.16 257.72 L135.34 258.82 L136.52 260 L137.7 261.25 L138.88 262.57 L140.05 263.97 L141.23 265.43 L142.41 266.96 L143.59 268.55 L144.77 270.21 L145.94 271.93 L147.12 273.71 L148.3 275.54 L149.48 277.43 L150.66 279.37 L151.83 281.36 L153.01 283.4 L154.19 285.49 L155.37 287.61 L156.55 289.78 L157.72 291.98 L158.9 294.22 L160.08 296.49 L161.26 298.78 L162.44 301.11 L163.61 303.45 L164.79 305.82 L165.97 308.21 L167.15 310.61 L168.33 313.02 L169.5 315.44 L170.68 317.87 L171.86 320.3" fill="none" stroke="#22ee22" stroke-width="1.3"/>
<path d="M83.51 320.3 L84.69 317.85 L85.87 315.39 L87.04 312.95 L88.22 310.51 L89.4 308.09 L90.58 305.68 L91.76 303.28 L92.93 300.91 L94.11 298.57 L95.29 296.24 L96.47 293.95 L97.65 291.69 L98.82 289.47 L100 287.28 L101.18 285.13 L102.36 283.03 L103.54 280.97 L104.71 278.96 L105.89 277 L107.07 275.09 L108.25 273.24 L109.43 271.44 L110.6 269.71 L111.78 268.03 L112.96 266.42 L114.14 264.88 L115.32 263.4 L116.49 261.99 L117.67 260.65 L118.85 259.39 L120.03 258.2 L121.21 257.08 L122.38 256.05 L123.56 255.09 L124.74 254.21 L125.92 253.41 L127.1 252.69 L128.27 252.06 L129.45 251.5 L130.63 251.04 L131.81 250.65 L132.99 250.35 L134.16 250.14 L135.34 250.01 L136.52 249.97 L137.7 250.01 L138.88 250.14 L140.05 250.35 L141.23 250.65 L142.41 251.04 L143.59 251.5 L144.77 252.06 L145.94 252.69 L147.12 253.41 L148.3 254.21 L149.48 255.09 L150.66 256.05 L151.83 257.08 L153.01 258.2 L154.19 259.39 L155.37 260.65 L156.55 261.99 L157.72 263.4 L158.9 264.88 L160.08 266.42 L161.26 268.03 L162.44 269.71 L163.61 271.44 L164.79 273.24 L165.97 275.09 L167.15 277 L168.33 278.96 L169.5 280.97 L170.68 283.03 L171.86 285.13 L173.04 287.28 L174.22 289.47 L175.39 291.69 L176.57 293.95 L177.75 296.24 L178.93 298.57 L180.11 300.91 L181.28 303.28 L182.46 305.68 L183.64 308.09 L184.82 310.51 L186 312.95 L187.17 315.39 L188.35 317.85 L189.53 320.3" fill="none" stroke="#22ee22" stroke-width="1.3" stroke-dasharray="7 2.6"/>
<path d="M101.47 320.3 L102.36 319.26 L103.24 317.75 L104.12 316.67 L105.01 315.96 L105.89 314.44 L106.78 313.84 L107.66 313.3 L108.54 310.82 L109.43 304.12 L110.31 300.3 L111.19 299.02 L112.08 298.46 L112.96 297.72 L113.84 297.62 L114.73 296.4 L115.61 295.21 L116.49 296.1 L117.38 294.4 L118.26 292.23 L119.14 292.06 L120.03 289.67 L120.91 289.05 L121.8 289.7 L122.68 288.63 L123.56 290.09 L124.45 288.3 L125.33 283.83 L126.21 282.54 L127.1 281.06 L127.98 280.08 L128.86 280.96 L129.75 280.99 L130.63 278.72 L131.51 280.51 L132.4 279.62 L133.28 279.7 L134.16 272.92 L135.05 272.8 L135.93 273.2 L136.81 274.47 L137.7 271.61 L138.58 270.23 L139.47 267.66 L140.35 268.54 L141.23 267.5 L142.12 268.76 L143 264.36 L143.88 265.09 L144.77 261.1 L145.65 261.3 L146.53 261.25 L147.42 260.91 L148.3 260.28 L149.18 260.33 L150.07 260.73 L150.95 260.46 L151.83 257.78 L152.72 261.23 L153.6 257.46 L154.48 263.55 L155.37 258.79 L156.25 257.41 L157.13 259.87 L158.02 258.55 L158.9 263.09 L159.79 259.22 L160.67 259.32 L161.55 260.63 L162.44 265.09 L163.32 264.69 L164.2 265.66 L165.09 261.76 L165.97 265.72 L166.85 264.61 L167.74 266.29 L168.62 267.39 L169.5 270.93 L170.39 269.88 L171.27 269.4 L172.15 273.17 L173.04 271.73 L173.92 269.29 L174.8 268.48 L175.69 272.95 L176.57 272.66 L177.46 273.65 L178.34 274.22 L179.22 275.97 L180.11 275.82 L180.99 278.56 L181.87 279.08 L182.76 280.63 L183.64 282.44 L184.52 281.44 L185.41 280.3 L186.29 279.58 L187.17 281.65 L188.06 278.92 L188.94 281.2 L189.82 282.53 L190.71 285.41 L191.59 285.99 L192.47 287.31 L193.36 291.37 L194.24 295.64 L195.13 296.11 L196.01 298.24 L196.89 300.53 L197.78 303.11 L198.66 304.06 L199.54 305.71 L200.43 308.56 L201.31 309.5 L202.19 312.05 L203.08 312.78 L203.96 314.96 L204.84 316.62 L205.73 318.46 L206.61 320.3" fill="none" stroke="#ff0000" stroke-width="1.7" stroke-dasharray="3.6 1.7"/>
<path d="M82.63 320.3 L83.33 319.14 L84.04 318.53 L84.75 316.36 L85.45 314.54 L86.16 312.7 L86.87 310.62 L87.57 310.01 L88.28 308.22 L88.99 307.17 L89.69 305.64 L90.4 304.45 L91.11 300.69 L91.81 300.14 L92.52 298.4 L93.23 295.99 L93.94 295.7 L94.64 295.23 L95.35 294.85 L96.06 292.7 L96.76 290.64 L97.47 290.85 L98.18 287.95 L98.88 288.62 L99.59 286.78 L100.3 287.39 L101 285.37 L101.71 288.44 L102.42 285.88 L103.12 284.41 L103.83 283.54 L104.54 281.24 L105.24 280.12 L105.95 279.35 L106.66 279.95 L107.36 276.08 L108.07 276.8 L108.78 276.32 L109.48 274.36 L110.19 273.8 L110.9 273.36 L111.61 274.43 L112.31 274.83 L113.02 271.15 L113.73 270.57 L114.43 268.25 L115.14 267.38 L115.85 265.28 L116.55 266.15 L117.26 268.92 L117.97 265.71 L118.67 265.29 L119.38 262.68 L120.09 261.96 L120.79 264.01 L121.5 264.59 L122.21 262.31 L122.91 264.94 L123.62 264.45 L124.33 266.15 L125.03 258.17 L125.74 260.69 L126.45 256.43 L127.15 252.75 L127.86 252.77 L128.57 257.51 L129.28 255.74 L129.98 256.69 L130.69 255.51 L131.4 253.57 L132.1 251.99 L132.81 252.73 L133.52 251.72 L134.22 253.32 L134.93 251.67 L135.64 253.86 L136.34 253.34 L137.05 250.82 L137.76 253.31 L138.46 254.11 L139.17 250.94 L139.88 253.3 L140.58 256.67 L141.29 258.1 L142 256.77 L142.7 255.09 L143.41 252.98 L144.12 255.49 L144.82 259.7 L145.53 252.18 L146.24 257.39 L146.95 260.39 L147.65 259.22 L148.36 260.01 L149.07 257.37 L149.77 254.7 L150.48 260.2 L151.19 263.08 L151.89 263.87 L152.6 260.95 L153.31 262.28 L154.01 264.58 L154.72 265.02 L155.43 263.56 L156.13 264.9 L156.84 267.96 L157.55 267.54 L158.25 264.35 L158.96 266.98 L159.67 267.68 L160.37 271.14 L161.08 270.69 L161.79 269.7 L162.49 270.72 L163.2 274.89 L163.91 278.89 L164.62 278.5 L165.32 275.92 L166.03 276.29 L166.74 279.36 L167.44 280.29 L168.15 281.23 L168.86 282.67 L169.56 286.79 L170.27 289.47 L170.98 287.27 L171.68 289.69 L172.39 290.48 L173.1 290.17 L173.8 291.07 L174.51 292.94 L175.22 292.25 L175.92 293.12 L176.63 294.47 L177.34 295.83 L178.04 297.43 L178.75 296.31 L179.46 297.02 L180.16 300.27 L180.87 303.2 L181.58 304.34 L182.29 304.96 L182.99 307.64 L183.7 309.95 L184.41 311.86 L185.11 313.17 L185.82 313.83 L186.53 315.52 L187.23 317.05 L187.94 319.36" fill="none" stroke="#0000ff" stroke-width="1.45" stroke-dasharray="1.1 1.1"/>
<path d="M65.84 320.3 L66.66 319.96 L67.49 316.94 L68.31 314.29 L69.14 310.75 L69.96 309.58 L70.79 308.36 L71.61 306.66 L72.44 305.18 L73.26 302.41 L74.09 302.04 L74.91 302.07 L75.74 298.46 L76.56 297.08 L77.38 294.78 L78.21 293.43 L79.03 292.64 L79.86 291.89 L80.68 291.28 L81.51 289.33 L82.33 288.85 L83.16 285.02 L83.98 282.32 L84.81 281.65 L85.63 282.99 L86.46 282.15 L87.28 282.78 L88.1 275.79 L88.93 280.42 L89.75 275.4 L90.58 276.69 L91.4 272.65 L92.23 274.77 L93.05 273 L93.88 273.16 L94.7 271.86 L95.53 269.85 L96.35 271.2 L97.17 263.89 L98 266.68 L98.82 263.45 L99.65 265.95 L100.47 265.6 L101.3 262.21 L102.12 260.31 L102.95 263.17 L103.77 262.69 L104.6 258.75 L105.42 256.91 L106.25 256.37 L107.07 259.19 L107.89 261.01 L108.72 259.41 L109.54 256.88 L110.37 257.71 L111.19 258.38 L112.02 259.46 L112.84 259.86 L113.67 251.37 L114.49 257.24 L115.32 258.27 L116.14 256.57 L116.97 253.46 L117.79 257.77 L118.61 244.47 L119.44 257.52 L120.26 254.76 L121.09 250.53 L121.91 253.3 L122.74 253.72 L123.56 255.02 L124.39 254.25 L125.21 260.02 L126.04 256.98 L126.86 257.21 L127.69 255.36 L128.51 255.44 L129.33 258.19 L130.16 260.33 L130.98 260.33 L131.81 260.66 L132.63 260.76 L133.46 264.18 L134.28 263.24 L135.11 259.78 L135.93 260.87 L136.76 264.28 L137.58 262.69 L138.4 263.83 L139.23 263.72 L140.05 264.8 L140.88 265.34 L141.7 267.56 L142.53 269.82 L143.35 270.73 L144.18 272.84 L145 274.27 L145.83 275.4 L146.65 273.81 L147.48 272.38 L148.3 273.28 L149.12 279.28 L149.95 276.82 L150.77 281.81 L151.6 282.39 L152.42 285.36 L153.25 286.06 L154.07 285.33 L154.9 287.08 L155.72 291.07 L156.55 290.68 L157.37 292.84 L158.2 296.78 L159.02 297.17 L159.84 297.55 L160.67 300.27 L161.49 301.75 L162.32 303.06 L163.14 306.07 L163.97 308.08 L164.79 308.65 L165.62 309.88 L166.44 313.23 L167.27 314.85 L168.09 315.44 L168.92 316.45 L169.74 317.33 L170.56 318.91" fill="none" stroke="#000" stroke-width="1.35" stroke-linejoin="round"/>
<rect x="35.5" y="197.3" width="75.9" height="39.7" fill="#fff" stroke="#808080" stroke-width="1"/>
<line x1="39.1" y1="203.9" x2="67.8" y2="203.9" stroke="#000" stroke-width="1.5"/>
<text x="74.3" y="205.7" font-size="5" text-anchor="start" fill="#000" >Inc. angle 0&#176;</text>
<line x1="39.1" y1="210.7" x2="67.8" y2="210.7" stroke="#0000ff" stroke-width="1.45" stroke-dasharray="1.1 1.1"/>
<text x="74.3" y="212.5" font-size="5" text-anchor="start" fill="#000" >Inc. angle 30&#176;</text>
<line x1="39.1" y1="217.5" x2="67.8" y2="217.5" stroke="#ff0000" stroke-width="1.7" stroke-dasharray="3.6 1.7"/>
<text x="74.3" y="219.3" font-size="5" text-anchor="start" fill="#000" >Inc. angle 60&#176;</text>
<line x1="39.1" y1="224.4" x2="67.8" y2="224.4" stroke="#22ee22" stroke-width="1.3"/>
<text x="74.3" y="226.2" font-size="5" text-anchor="start" fill="#000" >Cos approx 0&#176;</text>
<line x1="39.1" y1="231.3" x2="67.8" y2="231.3" stroke="#22ee22" stroke-width="1.3" stroke-dasharray="7 2.6"/>
<text x="74.3" y="233.1" font-size="5" text-anchor="start" fill="#000" >Cos approx 30&#176;</text>
<line x1="281.08" y1="193.5" x2="281.08" y2="320.4" stroke="#e2e2e2" stroke-width="0.8"/>
<line x1="310.67" y1="193.5" x2="310.67" y2="320.4" stroke="#e2e2e2" stroke-width="0.8"/>
<line x1="340.25" y1="193.5" x2="340.25" y2="320.4" stroke="#e2e2e2" stroke-width="0.8"/>
<line x1="369.83" y1="193.5" x2="369.83" y2="320.4" stroke="#e2e2e2" stroke-width="0.8"/>
<line x1="399.42" y1="193.5" x2="399.42" y2="320.4" stroke="#e2e2e2" stroke-width="0.8"/>
<line x1="251.5" y1="292.2" x2="429" y2="292.2" stroke="#e2e2e2" stroke-width="0.8"/>
<line x1="251.5" y1="264" x2="429" y2="264" stroke="#e2e2e2" stroke-width="0.8"/>
<line x1="251.5" y1="235.8" x2="429" y2="235.8" stroke="#e2e2e2" stroke-width="0.8"/>
<line x1="251.5" y1="207.6" x2="429" y2="207.6" stroke="#e2e2e2" stroke-width="0.8"/>
<rect x="251.5" y="193.5" width="177.5" height="126.9" fill="none" stroke="#858585" stroke-width="1.5"/>
<line x1="251.5" y1="320.4" x2="251.5" y2="322.4" stroke="#858585" stroke-width="0.9"/>
<line x1="281.08" y1="320.4" x2="281.08" y2="322.4" stroke="#858585" stroke-width="0.9"/>
<line x1="310.67" y1="320.4" x2="310.67" y2="322.4" stroke="#858585" stroke-width="0.9"/>
<line x1="340.25" y1="320.4" x2="340.25" y2="322.4" stroke="#858585" stroke-width="0.9"/>
<line x1="369.83" y1="320.4" x2="369.83" y2="322.4" stroke="#858585" stroke-width="0.9"/>
<line x1="399.42" y1="320.4" x2="399.42" y2="322.4" stroke="#858585" stroke-width="0.9"/>
<line x1="429" y1="320.4" x2="429" y2="322.4" stroke="#858585" stroke-width="0.9"/>
<line x1="249.5" y1="320.4" x2="251.5" y2="320.4" stroke="#858585" stroke-width="0.9"/>
<line x1="249.5" y1="292.2" x2="251.5" y2="292.2" stroke="#858585" stroke-width="0.9"/>
<line x1="249.5" y1="264" x2="251.5" y2="264" stroke="#858585" stroke-width="0.9"/>
<line x1="249.5" y1="235.8" x2="251.5" y2="235.8" stroke="#858585" stroke-width="0.9"/>
<line x1="249.5" y1="207.6" x2="251.5" y2="207.6" stroke="#858585" stroke-width="0.9"/>
<text x="251.5" y="329.2" font-size="5" text-anchor="middle" fill="#222" >-150</text>
<text x="281.08" y="329.2" font-size="5" text-anchor="middle" fill="#222" >-100</text>
<text x="310.67" y="329.2" font-size="5" text-anchor="middle" fill="#222" >-50</text>
<text x="340.25" y="329.2" font-size="5" text-anchor="middle" fill="#222" >0</text>
<text x="369.83" y="329.2" font-size="5" text-anchor="middle" fill="#222" >50</text>
<text x="399.42" y="329.2" font-size="5" text-anchor="middle" fill="#222" >100</text>
<text x="429" y="329.2" font-size="5" text-anchor="middle" fill="#222" >150</text>
<text x="248.4" y="322.2" font-size="5" text-anchor="end" fill="#222" >0,0</text>
<text x="248.4" y="294" font-size="5" text-anchor="end" fill="#222" >0,2</text>
<text x="248.4" y="265.8" font-size="5" text-anchor="end" fill="#222" >0,4</text>
<text x="248.4" y="237.6" font-size="5" text-anchor="end" fill="#222" >0,6</text>
<text x="248.4" y="209.4" font-size="5" text-anchor="end" fill="#222" >0,8</text>
<rect x="353.5" y="177.1" width="74.1" height="53.1" fill="#fff"/>
<line x1="365.85" y1="177.1" x2="365.85" y2="230.2" stroke="#e2e2e2" stroke-width="0.8"/>
<line x1="378.2" y1="177.1" x2="378.2" y2="230.2" stroke="#e2e2e2" stroke-width="0.8"/>
<line x1="390.55" y1="177.1" x2="390.55" y2="230.2" stroke="#e2e2e2" stroke-width="0.8"/>
<line x1="402.9" y1="177.1" x2="402.9" y2="230.2" stroke="#e2e2e2" stroke-width="0.8"/>
<line x1="415.25" y1="177.1" x2="415.25" y2="230.2" stroke="#e2e2e2" stroke-width="0.8"/>
<line x1="353.5" y1="215.03" x2="427.6" y2="215.03" stroke="#e2e2e2" stroke-width="0.8"/>
<line x1="353.5" y1="199.86" x2="427.6" y2="199.86" stroke="#e2e2e2" stroke-width="0.8"/>
<line x1="353.5" y1="184.69" x2="427.6" y2="184.69" stroke="#e2e2e2" stroke-width="0.8"/>
<path d="M353.5 199.86 L354.74 199.72 L355.97 199.56 L357.2 199.41 L358.44 199.29 L359.68 199.25 L360.91 199.26 L362.14 199.3 L363.38 199.35 L364.62 199.41 L365.85 199.48 L367.08 199.54 L368.32 199.61 L369.56 199.69 L370.79 199.77 L372.02 199.87 L373.26 199.98 L374.5 200.11 L375.73 200.26 L376.97 200.43 L378.2 200.62 L379.44 200.97 L380.67 201.54 L381.91 202.2 L383.14 202.82 L384.38 203.27 L385.61 203.55 L386.85 203.78 L388.08 203.98 L389.31 204.18 L390.55 204.41 L391.79 204.67 L393.02 204.93 L394.25 205.2 L395.49 205.48 L396.73 205.77 L397.96 206.07 L399.19 206.39 L400.43 206.72 L401.67 207.06 L402.9 207.43 L404.13 207.82 L405.37 208.23 L406.61 208.65 L407.84 209.1 L409.08 209.55 L410.31 210.03 L411.55 210.51 L412.78 211 L414.01 211.49 L415.25 211.99 L416.49 212.51 L417.72 213.05 L418.96 213.6 L420.19 214.17 L421.43 214.76 L422.66 215.34 L423.9 215.93 L425.13 216.52 L426.37 217.11 L427.6 217.68" fill="none" stroke="#333" stroke-width="1.1"/>
<rect x="353.5" y="177.1" width="74.1" height="53.1" fill="none" stroke="#858585" stroke-width="1.0"/>
<line x1="353.5" y1="230.2" x2="353.5" y2="231.7" stroke="#858585" stroke-width="0.9"/>
<line x1="365.85" y1="230.2" x2="365.85" y2="231.7" stroke="#858585" stroke-width="0.9"/>
<line x1="378.2" y1="230.2" x2="378.2" y2="231.7" stroke="#858585" stroke-width="0.9"/>
<line x1="390.55" y1="230.2" x2="390.55" y2="231.7" stroke="#858585" stroke-width="0.9"/>
<line x1="402.9" y1="230.2" x2="402.9" y2="231.7" stroke="#858585" stroke-width="0.9"/>
<line x1="415.25" y1="230.2" x2="415.25" y2="231.7" stroke="#858585" stroke-width="0.9"/>
<line x1="427.6" y1="230.2" x2="427.6" y2="231.7" stroke="#858585" stroke-width="0.9"/>
<line x1="352" y1="230.2" x2="353.5" y2="230.2" stroke="#858585" stroke-width="0.9"/>
<line x1="352" y1="215.03" x2="353.5" y2="215.03" stroke="#858585" stroke-width="0.9"/>
<line x1="352" y1="199.86" x2="353.5" y2="199.86" stroke="#858585" stroke-width="0.9"/>
<line x1="352" y1="184.69" x2="353.5" y2="184.69" stroke="#858585" stroke-width="0.9"/>
<text x="353.5" y="235.9" font-size="4.3" text-anchor="middle" fill="#000" >0</text>
<text x="365.85" y="235.9" font-size="4.3" text-anchor="middle" fill="#000" >10</text>
<text x="378.2" y="235.9" font-size="4.3" text-anchor="middle" fill="#000" >20</text>
<text x="390.55" y="235.9" font-size="4.3" text-anchor="middle" fill="#000" >30</text>
<text x="402.9" y="235.9" font-size="4.3" text-anchor="middle" fill="#000" >40</text>
<text x="415.25" y="235.9" font-size="4.3" text-anchor="middle" fill="#000" >50</text>
<text x="427.6" y="235.9" font-size="4.3" text-anchor="middle" fill="#000" >60</text>
<text x="351" y="231.7" font-size="4.3" text-anchor="end" fill="#000" >0,2</text>
<text x="351" y="216.53" font-size="4.3" text-anchor="end" fill="#000" >0,4</text>
<text x="351" y="201.36" font-size="4.3" text-anchor="end" fill="#000" >0,6</text>
<text x="351" y="186.19" font-size="4.3" text-anchor="end" fill="#000" >0,8</text>
<text transform="translate(340.6 202.6) rotate(-90)" font-size="5.7" text-anchor="middle" fill="#000">Peak (a.u.)</text>
<text x="391.1" y="247" font-size="5.5" text-anchor="middle" fill="#000" >Incident angle (&#176;)</text>
<path d="M287 320.4 L288.18 317.51 L289.37 314.63 L290.55 311.75 L291.73 308.88 L292.92 306.03 L294.1 303.19 L295.28 300.38 L296.47 297.59 L297.65 294.82 L298.83 292.09 L300.02 289.39 L301.2 286.74 L302.38 284.12 L303.57 281.54 L304.75 279.02 L305.93 276.54 L307.12 274.12 L308.3 271.75 L309.48 269.44 L310.67 267.2 L311.85 265.02 L313.03 262.91 L314.22 260.86 L315.4 258.89 L316.58 257 L317.77 255.18 L318.95 253.44 L320.13 251.78 L321.32 250.21 L322.5 248.72 L323.68 247.32 L324.87 246.01 L326.05 244.79 L327.23 243.66 L328.42 242.62 L329.6 241.68 L330.78 240.84 L331.97 240.09 L333.15 239.44 L334.33 238.89 L335.52 238.44 L336.7 238.09 L337.88 237.83 L339.07 237.68 L340.25 237.63 L341.43 237.68 L342.62 237.83 L343.8 238.09 L344.98 238.44 L346.17 238.89 L347.35 239.44 L348.53 240.09 L349.72 240.84 L350.9 241.68 L352.08 242.62 L353.27 243.66 L354.45 244.79 L355.63 246.01 L356.82 247.32 L358 248.72 L359.18 250.21 L360.37 251.78 L361.55 253.44 L362.73 255.18 L363.92 257 L365.1 258.89 L366.28 260.86 L367.47 262.91 L368.65 265.02 L369.83 267.2 L371.02 269.44 L372.2 271.75 L373.38 274.12 L374.57 276.54 L375.75 279.02 L376.93 281.54 L378.12 284.12 L379.3 286.74 L380.48 289.39 L381.67 292.09 L382.85 294.82 L384.03 297.59 L385.22 300.38 L386.4 303.19 L387.58 306.03 L388.77 308.88 L389.95 311.75 L391.13 314.63 L392.32 317.51 L393.5 320.4" fill="none" stroke="#22ee22" stroke-width="1.3"/>
<path d="M304.75 320.4 L305.93 317.87 L307.12 315.33 L308.3 312.81 L309.48 310.29 L310.67 307.79 L311.85 305.3 L313.03 302.83 L314.22 300.38 L315.4 297.96 L316.58 295.56 L317.77 293.2 L318.95 290.86 L320.13 288.57 L321.32 286.31 L322.5 284.09 L323.68 281.92 L324.87 279.79 L326.05 277.72 L327.23 275.69 L328.42 273.72 L329.6 271.81 L330.78 269.96 L331.97 268.17 L333.15 266.44 L334.33 264.77 L335.52 263.18 L336.7 261.65 L337.88 260.2 L339.07 258.82 L340.25 257.51 L341.43 256.28 L342.62 255.13 L343.8 254.06 L344.98 253.07 L346.17 252.16 L347.35 251.34 L348.53 250.6 L349.72 249.94 L350.9 249.37 L352.08 248.89 L353.27 248.49 L354.45 248.18 L355.63 247.96 L356.82 247.83 L358 247.78 L359.18 247.83 L360.37 247.96 L361.55 248.18 L362.73 248.49 L363.92 248.89 L365.1 249.37 L366.28 249.94 L367.47 250.6 L368.65 251.34 L369.83 252.16 L371.02 253.07 L372.2 254.06 L373.38 255.13 L374.57 256.28 L375.75 257.51 L376.93 258.82 L378.12 260.2 L379.3 261.65 L380.48 263.18 L381.67 264.77 L382.85 266.44 L384.03 268.17 L385.22 269.96 L386.4 271.81 L387.58 273.72 L388.77 275.69 L389.95 277.72 L391.13 279.79 L392.32 281.92 L393.5 284.09 L394.68 286.31 L395.87 288.57 L397.05 290.86 L398.23 293.2 L399.42 295.56 L400.6 297.96 L401.78 300.38 L402.97 302.83 L404.15 305.3 L405.33 307.79 L406.52 310.29 L407.7 312.81 L408.88 315.33 L410.07 317.87 L411.25 320.4" fill="none" stroke="#22ee22" stroke-width="1.3" stroke-dasharray="7 2.6"/>
<path d="M322.5 320.4 L323.39 318.88 L324.27 317.39 L325.16 315.55 L326.05 312.97 L326.94 311.19 L327.82 309.87 L328.71 310.04 L329.6 306.68 L330.49 304.76 L331.38 302.16 L332.26 301.74 L333.15 297.85 L334.04 296.12 L334.93 292.92 L335.81 292.6 L336.7 293.02 L337.59 290.17 L338.48 287.45 L339.36 283.51 L340.25 280.81 L341.14 276.86 L342.02 276.33 L342.91 276.99 L343.8 277.09 L344.69 273.85 L345.57 275.17 L346.46 274.46 L347.35 276.58 L348.24 276.31 L349.12 277.31 L350.01 277.03 L350.9 274.5 L351.79 271.75 L352.68 269.22 L353.56 268.06 L354.45 271.57 L355.34 267.23 L356.23 265.01 L357.11 268.39 L358 268.62 L358.89 271.37 L359.77 271.66 L360.66 270.39 L361.55 271.64 L362.44 273.88 L363.32 275.93 L364.21 276.98 L365.1 279.46 L365.99 279.82 L366.88 280.89 L367.76 282.32 L368.65 283.18 L369.54 284.66 L370.43 284.73 L371.31 289.5 L372.2 289.51 L373.09 292.41 L373.98 291.51 L374.86 292.79 L375.75 296.56 L376.64 297.06 L377.52 296.34 L378.41 297.43 L379.3 297.73 L380.19 300.05 L381.07 300.68 L381.96 300.77 L382.85 300.5 L383.74 301.95 L384.62 303 L385.51 304.78 L386.4 306.04 L387.29 307.46 L388.18 307.76 L389.06 308.92 L389.95 309.32 L390.84 310.67 L391.73 311 L392.61 310.99 L393.5 309.94 L394.39 311.38 L395.27 311.4 L396.16 311.91 L397.05 312.83 L397.94 312.94 L398.82 313.58 L399.71 314.19 L400.6 314.35 L401.49 314.36 L402.38 315.51 L403.26 314.47 L404.15 314.98 L405.04 314.78 L405.93 315.47 L406.81 316.48 L407.7 317.13 L408.59 317.22 L409.48 317.66 L410.36 317.16 L411.25 317.34 L412.14 318.14 L413.02 318.28 L413.91 318 L414.8 318.19 L415.69 318.54 L416.58 318.54 L417.46 318.73 L418.35 319.15 L419.24 318.97 L420.12 319.13 L421.01 319.36 L421.9 319.6 L422.79 319.77 L423.67 319.25 L424.56 319.47 L425.45 319.97 L426.34 320.02 L427.23 320.4 L428.11 320.4 L429 320.4" fill="none" stroke="#ff0000" stroke-width="1.7" stroke-dasharray="3.6 1.7"/>
<path d="M306.52 320.4 L307.12 319.25 L307.71 318.18 L308.3 317.34 L308.89 315.8 L309.48 314.67 L310.07 313.62 L310.67 312.72 L311.26 312.38 L311.85 310.68 L312.44 308.74 L313.03 307.68 L313.62 306.69 L314.22 305.37 L314.81 304.44 L315.4 303.51 L315.99 302.13 L316.58 299.98 L317.18 298.28 L317.77 296.06 L318.36 294.54 L318.95 292.95 L319.54 292.8 L320.13 290.97 L320.73 287.86 L321.32 286.56 L321.91 285.15 L322.5 282.26 L323.09 279.86 L323.68 278.9 L324.27 276.73 L324.87 276.5 L325.46 274.13 L326.05 274.96 L326.64 272.06 L327.23 272.45 L327.82 271.93 L328.42 272.03 L329.01 271.82 L329.6 270.19 L330.19 268.18 L330.78 267.42 L331.38 264.23 L331.97 261.37 L332.56 263 L333.15 262.33 L333.74 263.12 L334.33 260.14 L334.93 259.85 L335.52 258.69 L336.11 258.13 L336.7 257.25 L337.29 253.03 L337.88 249.66 L338.48 250.86 L339.07 247.82 L339.66 244.34 L340.25 245.34 L340.84 247.67 L341.43 242.41 L342.02 240.49 L342.62 241.91 L343.21 238.1 L343.8 241.2 L344.39 233 L344.98 235.6 L345.57 237.45 L346.17 236.4 L346.76 241.61 L347.35 245.12 L347.94 244.07 L348.53 243.01 L349.12 244.13 L349.72 241.84 L350.31 248.82 L350.9 249.5 L351.49 248.72 L352.08 249.17 L352.68 255.66 L353.27 252.56 L353.86 251.55 L354.45 253.01 L355.04 257.05 L355.63 255.91 L356.23 262.4 L356.82 264.54 L357.41 259.15 L358 265.4 L358.59 267.51 L359.18 266.19 L359.77 267.33 L360.37 272.18 L360.96 270.47 L361.55 270.72 L362.14 272.46 L362.73 274.77 L363.32 276.86 L363.92 277.06 L364.51 279.23 L365.1 277.79 L365.69 277.22 L366.28 278.94 L366.88 278.93 L367.47 282.71 L368.06 282.75 L368.65 283.81 L369.24 286.04 L369.83 286.81 L370.43 286.62 L371.02 288.53 L371.61 288.79 L372.2 289.01 L372.79 287.93 L373.38 290.27 L373.98 292.11 L374.57 294.74 L375.16 295.09 L375.75 296.28 L376.34 298.64 L376.93 299.7 L377.52 300.3 L378.12 300.1 L378.71 301.12 L379.3 303.34 L379.89 303.32 L380.48 304.54 L381.07 304.55 L381.67 305.04 L382.26 304.55 L382.85 305.98 L383.44 307.17 L384.03 307.28 L384.62 306.51 L385.22 308.14 L385.81 308.61 L386.4 309.88 L386.99 311.02 L387.58 310.4 L388.18 310.95 L388.77 311.32 L389.36 310.94 L389.95 312.68 L390.54 312.26 L391.13 312.46 L391.73 313.55 L392.32 314.26 L392.91 313.63 L393.5 314.16 L394.09 314.93 L394.68 315.61 L395.27 315.92 L395.87 315.68 L396.46 315.83 L397.05 316.95 L397.64 316.98 L398.23 316.26 L398.82 317.19 L399.42 317.65 L400.01 317.06 L400.6 317.59 L401.19 318.13 L401.78 318.1 L402.38 318.63 L402.97 318.27 L403.56 319.23 L404.15 318.82 L404.74 319.61 L405.33 319.78 L405.93 319.72 L406.52 320.09 L407.11 319.78 L407.7 320.26 L408.29 319.87 L408.88 319.94 L409.48 320.33" fill="none" stroke="#0000ff" stroke-width="1.45" stroke-dasharray="1.1 1.1"/>
<path d="M288.18 320.4 L288.77 318.2 L289.37 318.89 L289.96 318.83 L290.55 319.4 L291.14 317.57 L291.73 318.45 L292.32 317.68 L292.92 317.67 L293.51 316.27 L294.1 315.86 L294.69 318.56 L295.28 315.75 L295.88 316.28 L296.47 315.24 L297.06 314.78 L297.65 312.15 L298.24 314.36 L298.83 313.74 L299.43 315.47 L300.02 310.9 L300.61 311.99 L301.2 309.61 L301.79 311.89 L302.38 307.92 L302.98 311.29 L303.57 309.4 L304.16 308.48 L304.75 307.28 L305.34 307.28 L305.93 305.94 L306.52 307.33 L307.12 305.25 L307.71 307.19 L308.3 304.79 L308.89 303.52 L309.48 303.21 L310.07 301.56 L310.67 301.16 L311.26 298.51 L311.85 296.68 L312.44 297.78 L313.03 296.36 L313.62 296.06 L314.22 295.76 L314.81 292.71 L315.4 288.88 L315.99 286.7 L316.58 284.41 L317.18 279.42 L317.77 278.59 L318.36 275.72 L318.95 276.42 L319.54 277.58 L320.13 270.17 L320.73 269.29 L321.32 264.5 L321.91 266.2 L322.5 260.25 L323.09 253.82 L323.68 261.24 L324.27 258.93 L324.87 249.42 L325.46 256.12 L326.05 251.68 L326.64 261.61 L327.23 251.53 L327.82 254.17 L328.42 251.79 L329.01 237.74 L329.6 240.65 L330.19 251.2 L330.78 251.82 L331.38 263.22 L331.97 250.73 L332.56 257.66 L333.15 242.56 L333.74 247.73 L334.33 236.34 L334.93 245.47 L335.52 230.94 L336.11 229.26 L336.7 246.23 L337.29 252.56 L337.88 233.28 L338.48 219.49 L339.07 240.31 L339.66 237.8 L340.25 226.18 L340.84 243.76 L341.43 253.04 L342.02 223.17 L342.62 231.42 L343.21 222.84 L343.8 237.98 L344.39 238.12 L344.98 213.78 L345.57 215.65 L346.17 230.16 L346.76 230.37 L347.35 236.85 L347.94 237.86 L348.53 239.55 L349.12 221.43 L349.72 239.12 L350.31 230.01 L350.9 242.46 L351.49 239.98 L352.08 247.45 L352.68 246.82 L353.27 258.6 L353.86 246.05 L354.45 241.99 L355.04 262.8 L355.63 263.47 L356.23 253.65 L356.82 264.12 L357.41 262.67 L358 265.1 L358.59 263.18 L359.18 263.83 L359.77 267.14 L360.37 267.45 L360.96 271.94 L361.55 274.71 L362.14 275.92 L362.73 278.14 L363.32 275.66 L363.92 279.15 L364.51 279.59 L365.1 284.32 L365.69 285.52 L366.28 284.5 L366.88 284.4 L367.47 287.24 L368.06 287.72 L368.65 290.35 L369.24 291.01 L369.83 289.43 L370.43 293.28 L371.02 292.82 L371.61 297.77 L372.2 298.52 L372.79 297.89 L373.38 299.84 L373.98 300.95 L374.57 302.93 L375.16 303.82 L375.75 304.84 L376.34 305.63 L376.93 307.74 L377.52 306.37 L378.12 307.45 L378.71 306.9 L379.3 309.64 L379.89 311.08 L380.48 312.36 L381.07 310.17 L381.67 311.53 L382.26 311.14 L382.85 311.85 L383.44 312.16 L384.03 311.35 L384.62 311.47 L385.22 311.48 L385.81 314.86 L386.4 314.58 L386.99 316.3 L387.58 316.82 L388.18 315.87 L388.77 317.75 L389.36 317.8 L389.95 318.77 L390.54 318.08 L391.13 320.24 L391.73 318.04 L392.32 320.4 L392.91 320.4" fill="none" stroke="#000" stroke-width="1.35" stroke-linejoin="round"/>
<rect x="254.5" y="195.2" width="75.6" height="39.5" fill="#fff" stroke="#808080" stroke-width="1"/>
<line x1="258" y1="202.1" x2="286.5" y2="202.1" stroke="#000" stroke-width="1.5"/>
<text x="292.7" y="203.9" font-size="5" text-anchor="start" fill="#000" >Inc. angle 0&#176;</text>
<line x1="258" y1="208.8" x2="286.5" y2="208.8" stroke="#0000ff" stroke-width="1.45" stroke-dasharray="1.1 1.1"/>
<text x="292.7" y="210.6" font-size="5" text-anchor="start" fill="#000" >Inc. angle 30&#176;</text>
<line x1="258" y1="215.5" x2="286.5" y2="215.5" stroke="#ff0000" stroke-width="1.7" stroke-dasharray="3.6 1.7"/>
<text x="292.7" y="217.3" font-size="5" text-anchor="start" fill="#000" >Inc. angle 60&#176;</text>
<line x1="258" y1="222.6" x2="286.5" y2="222.6" stroke="#22ee22" stroke-width="1.3"/>
<text x="292.7" y="224.4" font-size="5" text-anchor="start" fill="#000" >Cos approx 0&#176;</text>
<line x1="258" y1="229.3" x2="286.5" y2="229.3" stroke="#22ee22" stroke-width="1.3" stroke-dasharray="7 2.6"/>
<text x="292.7" y="231.1" font-size="5" text-anchor="start" fill="#000" >Cos approx 30&#176;</text>
<text x="0.9" y="177.8" font-size="10" text-anchor="start" fill="#111" >(c)</text>
<text x="220.8" y="177.8" font-size="10" text-anchor="start" fill="#111" >(d)</text>
<text x="69.6" y="344.6" font-size="10" fill="#000">Scattering angle,</text>
<text transform="translate(147.8 344.5) skewX(-22)" font-family="'Liberation Serif', serif" font-style="italic" font-size="10.5" fill="#111">&#952;</text>
<text x="157.4" y="344.6" font-size="10" fill="#000">(&#176;)</text>
<text x="291.6" y="344.6" font-size="10" fill="#000">Scattering angle,</text>
<text transform="translate(369.8 344.5) skewX(-22)" font-family="'Liberation Serif', serif" font-style="italic" font-size="10.5" fill="#111">&#952;</text>
<text x="379.4" y="344.6" font-size="10" fill="#000">(&#176;)</text>
<text transform="translate(10.6 257) rotate(-90)" font-size="10" text-anchor="middle" fill="#000">Signal <tspan font-style="italic">ADF</tspan><tspan font-size="7" font-style="italic" dy="2">T</tspan><tspan dy="-2"> (a.u.)</tspan></text>
<text transform="translate(232.4 257) rotate(-90)" font-size="10" text-anchor="middle" fill="#000">Signal <tspan font-style="italic">ADF</tspan><tspan font-size="7" font-style="italic" dy="2">T</tspan><tspan dy="-2"> (a.u.)</tspan></text>
</svg>
</body></html>
